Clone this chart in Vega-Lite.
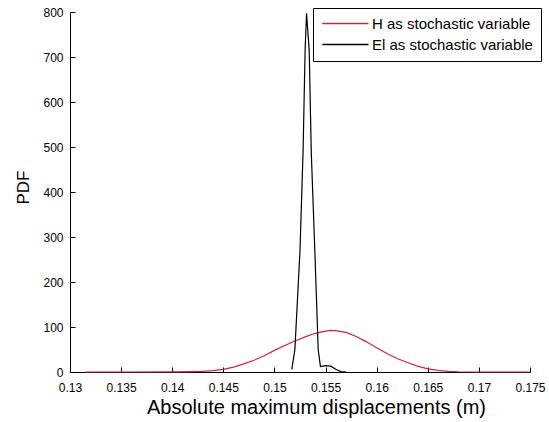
{
  "$schema": "https://vega.github.io/schema/vega-lite/v6.json",
  "width": 460,
  "height": 360,
  "autosize": {"type": "none"},
  "padding": {"left": 70, "top": 12, "right": 19, "bottom": 50},
  "background": "white",
  "config": {"view": {"stroke": null}, "font": "Liberation Sans"},
  "data": {"values": [
    {"x": 0.1315, "y": 0, "series": "H as stochastic variable"},
    {"x": 0.135, "y": 0, "series": "H as stochastic variable"},
    {"x": 0.14, "y": 0.2, "series": "H as stochastic variable"},
    {"x": 0.142, "y": 0.8, "series": "H as stochastic variable"},
    {"x": 0.143, "y": 1.5, "series": "H as stochastic variable"},
    {"x": 0.144, "y": 3, "series": "H as stochastic variable"},
    {"x": 0.145, "y": 6, "series": "H as stochastic variable"},
    {"x": 0.146, "y": 11, "series": "H as stochastic variable"},
    {"x": 0.147, "y": 18, "series": "H as stochastic variable"},
    {"x": 0.148, "y": 26, "series": "H as stochastic variable"},
    {"x": 0.149, "y": 36, "series": "H as stochastic variable"},
    {"x": 0.150, "y": 48, "series": "H as stochastic variable"},
    {"x": 0.151, "y": 59, "series": "H as stochastic variable"},
    {"x": 0.152, "y": 69, "series": "H as stochastic variable"},
    {"x": 0.153, "y": 78, "series": "H as stochastic variable"},
    {"x": 0.154, "y": 86, "series": "H as stochastic variable"},
    {"x": 0.155, "y": 91, "series": "H as stochastic variable"},
    {"x": 0.1555, "y": 92.5, "series": "H as stochastic variable"},
    {"x": 0.156, "y": 92, "series": "H as stochastic variable"},
    {"x": 0.157, "y": 88, "series": "H as stochastic variable"},
    {"x": 0.158, "y": 79, "series": "H as stochastic variable"},
    {"x": 0.159, "y": 67, "series": "H as stochastic variable"},
    {"x": 0.160, "y": 54, "series": "H as stochastic variable"},
    {"x": 0.161, "y": 41, "series": "H as stochastic variable"},
    {"x": 0.162, "y": 30, "series": "H as stochastic variable"},
    {"x": 0.163, "y": 21, "series": "H as stochastic variable"},
    {"x": 0.164, "y": 13, "series": "H as stochastic variable"},
    {"x": 0.165, "y": 7, "series": "H as stochastic variable"},
    {"x": 0.166, "y": 3.5, "series": "H as stochastic variable"},
    {"x": 0.167, "y": 1.5, "series": "H as stochastic variable"},
    {"x": 0.168, "y": 0.5, "series": "H as stochastic variable"},
    {"x": 0.170, "y": 0, "series": "H as stochastic variable"},
    {"x": 0.175, "y": 0, "series": "H as stochastic variable"},
    {"x": 0.1517, "y": 6, "series": "El as stochastic variable"},
    {"x": 0.1520, "y": 50, "series": "El as stochastic variable"},
    {"x": 0.1525, "y": 270, "series": "El as stochastic variable"},
    {"x": 0.1528, "y": 490, "series": "El as stochastic variable"},
    {"x": 0.1530, "y": 715, "series": "El as stochastic variable"},
    {"x": 0.15314, "y": 797, "series": "El as stochastic variable"},
    {"x": 0.1534, "y": 715, "series": "El as stochastic variable"},
    {"x": 0.1536, "y": 490, "series": "El as stochastic variable"},
    {"x": 0.15395, "y": 270, "series": "El as stochastic variable"},
    {"x": 0.15428, "y": 50, "series": "El as stochastic variable"},
    {"x": 0.1545, "y": 12, "series": "El as stochastic variable"},
    {"x": 0.1550, "y": 14, "series": "El as stochastic variable"},
    {"x": 0.1555, "y": 13, "series": "El as stochastic variable"},
    {"x": 0.1560, "y": 6, "series": "El as stochastic variable"},
    {"x": 0.1565, "y": 1, "series": "El as stochastic variable"},
    {"x": 0.1570, "y": 0, "series": "El as stochastic variable"}
  ]},
  "mark": {"type": "line", "strokeWidth": 1.2},
  "encoding": {
    "x": {
      "field": "x", "type": "quantitative",
      "scale": {"domain": [0.13, 0.175], "nice": false, "zero": false},
      "axis": {
        "values": [0.13, 0.135, 0.14, 0.145, 0.15, 0.155, 0.16, 0.165, 0.17, 0.175],
        "format": "~g",
        "title": "Absolute maximum displacements (m)",
        "grid": false,
        "domainColor": "#000", "tickColor": "#000", "tickSize": -5,
        "labelColor": "#000", "labelFontSize": 12, "labelPadding": 15,
        "labelFlush": false,
        "titleFontSize": 20, "titleFontWeight": "normal", "titleColor": "#000", "titlePadding": 4,
        "titleX": 246
      }
    },
    "y": {
      "field": "y", "type": "quantitative",
      "scale": {"domain": [0, 800], "nice": false},
      "axis": {
        "values": [0, 100, 200, 300, 400, 500, 600, 700, 800],
        "title": "PDF",
        "grid": false,
        "domainColor": "#000", "tickColor": "#000", "tickSize": -5,
        "labelColor": "#000", "labelFontSize": 12, "labelPadding": 12,
        "labelFlush": false,
        "titleFontSize": 17, "titleFontWeight": "normal", "titleColor": "#000", "titlePadding": 10,
        "titleY": 175
      }
    },
    "color": {
      "field": "series", "type": "nominal",
      "scale": {"domain": ["H as stochastic variable", "El as stochastic variable"], "range": ["#c8283c", "#000000"]},
      "legend": {
        "title": null, "orient": "none", "legendX": 243, "legendY": -4,
        "strokeColor": "#000", "fillColor": "#fff", "padding": 8,
        "symbolType": "M-1,-0.02H7V0.02H-1Z", "symbolSize": 127, "symbolStrokeWidth": 1.1,
        "labelFontSize": 15, "labelColor": "#000", "labelLimit": 400, "rowPadding": 5, "labelOffset": 36
      }
    }
  }
}
